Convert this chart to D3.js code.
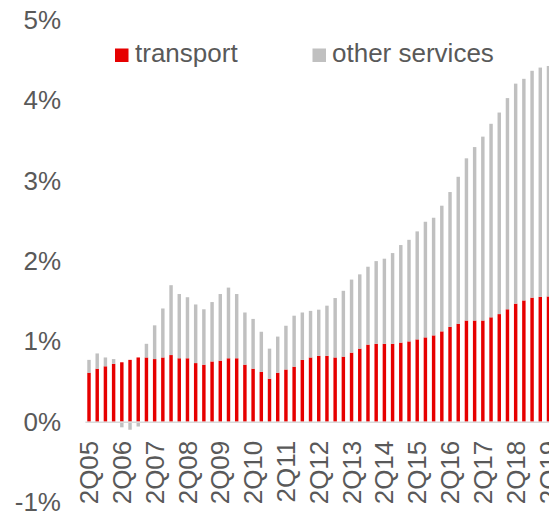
<!DOCTYPE html>
<html>
<head>
<meta charset="utf-8">
<script src="https://cdn.jsdelivr.net/npm/d3@7"></script>
<style>
  html, body { margin: 0; padding: 0; background: #ffffff; overflow: hidden; }
  svg { display: block; }
  text { font-family: "Liberation Sans", Arial, sans-serif; }
</style>
</head>
<body>
<svg id="chart" width="549" height="513"></svg>
<script>
const quarters = [
  "2Q05","3Q05","4Q05","1Q06","2Q06","3Q06","4Q06","1Q07","2Q07","3Q07","4Q07","1Q08",
  "2Q08","3Q08","4Q08","1Q09","2Q09","3Q09","4Q09","1Q10","2Q10","3Q10","4Q10","1Q11",
  "2Q11","3Q11","4Q11","1Q12","2Q12","3Q12","4Q12","1Q13","2Q13","3Q13","4Q13","1Q14",
  "2Q14","3Q14","4Q14","1Q15","2Q15","3Q15","4Q15","1Q16","2Q16","3Q16","4Q16","1Q17",
  "2Q17","3Q17","4Q17","1Q18","2Q18","3Q18","4Q18","1Q19","2Q19"
];
const transport = [
  0.61, 0.66, 0.69, 0.72, 0.74, 0.77, 0.80, 0.80, 0.78, 0.80, 0.83, 0.79,
  0.79, 0.73, 0.71, 0.75, 0.76, 0.79, 0.79, 0.71, 0.66, 0.62, 0.535, 0.61,
  0.65, 0.685, 0.77, 0.80, 0.82, 0.82, 0.80, 0.81, 0.86, 0.91, 0.96, 0.97,
  0.97, 0.97, 0.985, 1.00, 1.025, 1.05, 1.075, 1.125, 1.18, 1.22, 1.26, 1.26,
  1.26, 1.30, 1.34, 1.40, 1.47, 1.51, 1.545, 1.555, 1.56
];
const otherServices = [
  0.16, 0.19, 0.11, 0.06, -0.07, -0.10, -0.06, 0.17, 0.42, 0.61, 0.87, 0.80,
  0.76, 0.73, 0.69, 0.74, 0.83, 0.88, 0.80, 0.65, 0.62, 0.50, 0.375, 0.45,
  0.545, 0.635, 0.59, 0.58, 0.575, 0.625, 0.74, 0.82, 0.91, 0.925, 0.97, 1.03,
  1.06, 1.13, 1.215, 1.265, 1.345, 1.44, 1.465, 1.565, 1.68, 1.83, 2.02, 2.16,
  2.29, 2.41, 2.51, 2.63, 2.74, 2.76, 2.825, 2.855, 2.87
];
const seriesNames = ["transport", "other services"];
const seriesColors = ["#e60000", "#c0c0c0"];
const yTicks = [-1, 0, 1, 2, 3, 4, 5];
const xTickLabels = ["2Q05","2Q06","2Q07","2Q08","2Q09","2Q10","2Q11","2Q12","2Q13","2Q14","2Q15","2Q16","2Q17","2Q18","2Q19"];

const textColor = "#595959";
const fontSize = 26;

const rows = quarters.map((q, i) => ({ q, transport: transport[i], other: otherServices[i] }));
const keys = ["transport", "other"];
const stacked = d3.stack().keys(keys).offset(d3.stackOffsetDiverging)(rows);

const svg = d3.select("#chart");
svg.append("rect").attr("width", 549).attr("height", 513).attr("fill", "#ffffff");

const step = 8.205;
const x0 = 84.9;
const x = d3.scaleBand()
  .domain(quarters)
  .range([x0, x0 + step * quarters.length])
  .paddingInner(0.58)
  .paddingOuter(0.29);

const y = d3.scaleLinear().domain([-1, 5]).range([502, 20.2]);

// axis line (category axis at zero)
const xAxis = d3.axisBottom(x)
  .tickValues(xTickLabels)
  .tickSize(0)
  .tickSizeOuter(0);

// bars
const layer = svg.append("g");
stacked.forEach((s, si) => {
  layer.append("g")
    .attr("fill", seriesColors[si])
    .selectAll("rect")
    .data(s)
    .join("rect")
    .attr("x", d => x(d.data.q))
    .attr("width", x.bandwidth())
    .attr("y", d => y(Math.max(d[0], d[1])))
    .attr("height", d => Math.abs(y(d[0]) - y(d[1])));
});

const gx = svg.append("g")
  .attr("transform", `translate(0,${y(0)})`)
  .call(xAxis);
gx.select(".domain").attr("stroke", "#d9d9d9").attr("stroke-width", 1.5);
gx.selectAll("text")
  .attr("transform", "rotate(-90)")
  .attr("text-anchor", "end")
  .attr("x", -19)
  .attr("y", 0)
  .attr("dy", "0.35em")
  .attr("fill", textColor)
  .style("font-size", fontSize + "px")
  .style("font-family", '"Liberation Sans", Arial, sans-serif');

const yAxis = d3.axisLeft(y)
  .tickValues(yTicks)
  .tickFormat(d => d + "%")
  .tickSize(0)
  .tickPadding(0);
const gy = svg.append("g").attr("transform", "translate(61,0)").call(yAxis);
gy.select(".domain").remove();
gy.selectAll("text")
  .attr("fill", textColor)
  .style("font-size", fontSize + "px")
  .style("font-family", '"Liberation Sans", Arial, sans-serif');

// legend
const legendItems = [
  { name: seriesNames[0], color: seriesColors[0], sx: 115, tx: 135 },
  { name: seriesNames[1], color: seriesColors[1], sx: 312.5, tx: 332 }
];
const lg = svg.append("g");
legendItems.forEach(it => {
  lg.append("rect").attr("x", it.sx).attr("y", 48.5).attr("width", 13.5).attr("height", 13.5).attr("fill", it.color);
  lg.append("text").attr("x", it.tx).attr("y", 62).attr("fill", textColor)
    .style("font-size", fontSize + "px").text(it.name);
});
</script>
</body>
</html>
